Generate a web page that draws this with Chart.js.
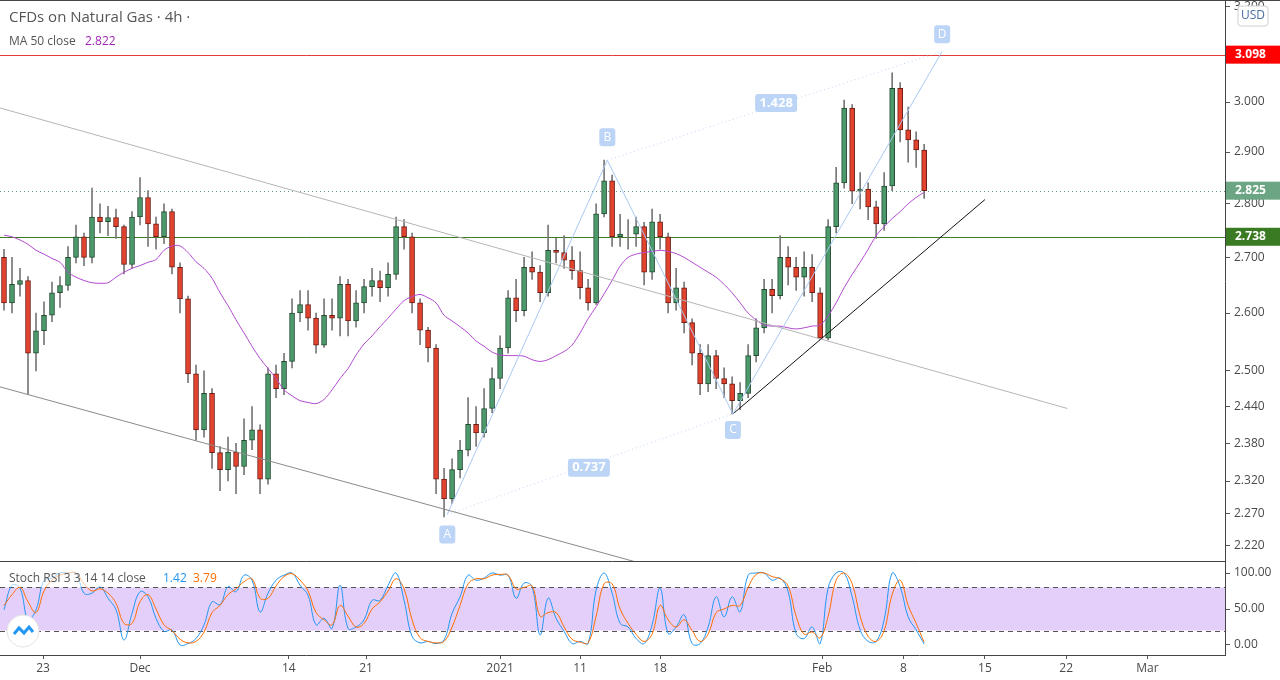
<!DOCTYPE html>
<html>
<head>
<meta charset="utf-8">
<script src="https://cdn.jsdelivr.net/npm/chart.js@4.4.1/dist/chart.umd.min.js"></script>
<style>
  html, body { margin: 0; padding: 0; background: #fff; overflow: hidden; }
  #main { display: block; }
  #stoch { display: block; }
</style>
</head>
<body>
<div style="position:relative;width:1280px;height:562px"><canvas id="main"></canvas></div>
<div style="position:relative;width:1280px;height:118px"><canvas id="stoch"></canvas></div>
<script>
// --- datos (velas agrupadas, ~3 velas de 4h por cada una) ---
const opens = [2.700,2.618,2.651,2.658,2.530,2.569,2.596,2.636,2.649,2.700,
  2.738,2.700,2.775,2.766,2.774,2.757,2.687,2.775,2.812,2.762,
  2.738,2.785,2.682,2.625,2.495,2.402,2.462,2.365,2.338,2.366,
  2.343,2.385,2.402,2.323,2.495,2.470,2.516,2.600,2.615,2.591,
  2.544,2.596,2.591,2.651,2.586,2.618,2.647,2.658,2.645,2.669,
  2.757,2.738,2.618,2.570,2.539,2.323,2.292,2.338,2.369,2.411,
  2.397,2.437,2.487,2.539,2.627,2.604,2.682,2.673,2.636,2.713,
  2.709,2.695,2.676,2.645,2.618,2.781,2.844,2.738,2.743,2.743,
  2.757,2.673,2.766,2.738,2.618,2.645,2.583,2.530,2.478,2.526,
  2.487,2.478,2.450,2.462,2.526,2.574,2.642,2.631,2.700,2.682,
  2.664,2.682,2.636,2.556,2.757,2.840,2.988,2.824,2.828,2.794,
  2.762,2.834,3.028,2.944,2.924,2.904];
const closes = [2.618,2.651,2.658,2.530,2.569,2.596,2.636,2.649,2.700,2.738,
  2.700,2.775,2.766,2.774,2.757,2.687,2.775,2.812,2.762,2.738,
  2.785,2.682,2.625,2.495,2.402,2.462,2.365,2.338,2.366,2.343,
  2.385,2.402,2.323,2.495,2.470,2.516,2.600,2.615,2.591,2.544,
  2.596,2.591,2.651,2.586,2.618,2.647,2.658,2.645,2.669,2.757,
  2.738,2.618,2.570,2.539,2.323,2.292,2.338,2.369,2.411,2.397,
  2.437,2.487,2.539,2.627,2.604,2.682,2.673,2.636,2.713,2.709,
  2.695,2.676,2.645,2.618,2.781,2.844,2.738,2.743,2.743,2.757,
  2.673,2.766,2.738,2.618,2.645,2.583,2.530,2.478,2.526,2.487,
  2.478,2.450,2.462,2.526,2.574,2.642,2.631,2.700,2.682,2.664,
  2.682,2.636,2.556,2.757,2.840,2.988,2.824,2.828,2.794,2.762,
  2.834,3.028,2.944,2.924,2.904,2.825];
const highs = [2.715,2.700,2.680,2.665,2.600,2.620,2.655,2.665,2.720,2.760,
  2.745,2.830,2.800,2.795,2.790,2.760,2.785,2.850,2.825,2.775,
  2.800,2.790,2.690,2.630,2.510,2.500,2.470,2.375,2.390,2.380,
  2.420,2.440,2.410,2.505,2.510,2.530,2.625,2.640,2.640,2.600,
  2.625,2.625,2.665,2.660,2.640,2.660,2.680,2.675,2.690,2.775,
  2.770,2.745,2.625,2.575,2.545,2.340,2.355,2.385,2.455,2.440,
  2.470,2.505,2.560,2.640,2.660,2.700,2.710,2.685,2.760,2.735,
  2.740,2.720,2.710,2.660,2.800,2.884,2.855,2.780,2.770,2.775,
  2.765,2.790,2.780,2.745,2.680,2.655,2.590,2.545,2.545,2.535,
  2.505,2.490,2.480,2.545,2.590,2.660,2.660,2.740,2.720,2.700,
  2.710,2.705,2.645,2.770,2.870,3.004,2.995,2.860,2.840,2.805,
  2.860,3.060,3.040,2.990,2.940,2.915];
const lows = [2.605,2.600,2.630,2.460,2.500,2.545,2.585,2.610,2.640,2.690,
  2.685,2.690,2.745,2.740,2.735,2.670,2.680,2.760,2.720,2.715,
  2.725,2.670,2.600,2.480,2.385,2.390,2.340,2.305,2.320,2.300,
  2.330,2.370,2.300,2.315,2.455,2.460,2.505,2.585,2.570,2.530,
  2.540,2.570,2.560,2.560,2.575,2.600,2.630,2.620,2.630,2.660,
  2.715,2.600,2.545,2.515,2.300,2.264,2.285,2.325,2.360,2.375,
  2.390,2.430,2.470,2.530,2.585,2.595,2.660,2.620,2.630,2.690,
  2.680,2.660,2.625,2.605,2.615,2.775,2.720,2.720,2.715,2.720,
  2.650,2.660,2.715,2.600,2.605,2.565,2.510,2.460,2.465,2.470,
  2.455,2.428,2.435,2.455,2.515,2.565,2.600,2.625,2.650,2.640,
  2.630,2.620,2.553,2.553,2.745,2.830,2.800,2.790,2.770,2.735,
  2.750,2.825,2.920,2.880,2.870,2.810];
const ma50 = [2.741,2.738,2.732,2.724,2.713,2.706,2.698,2.691,2.673,2.664,
  2.658,2.654,2.653,2.654,2.664,2.673,2.680,2.685,2.691,2.696,
  2.713,2.721,2.721,2.709,2.692,2.680,2.662,2.636,2.613,2.588,
  2.565,2.542,2.521,2.504,2.487,2.468,2.458,2.450,2.447,2.445,
  2.452,2.468,2.487,2.504,2.527,2.546,2.560,2.576,2.591,2.607,
  2.622,2.629,2.633,2.627,2.618,2.596,2.586,2.576,2.565,2.551,
  2.542,2.532,2.527,2.526,2.526,2.525,2.519,2.516,2.519,2.526,
  2.533,2.544,2.565,2.590,2.611,2.634,2.658,2.684,2.700,2.706,
  2.709,2.711,2.713,2.711,2.707,2.700,2.691,2.682,2.673,2.664,
  2.651,2.636,2.618,2.600,2.588,2.579,2.577,2.577,2.574,2.572,
  2.574,2.577,2.579,2.595,2.618,2.645,2.669,2.691,2.715,2.740,
  2.757,2.772,2.785,2.800,2.812,2.822];
const stochK = [49,83,79,35,49,90,93,100,100,100,72,72,81,65,49,7,44,74,67,37,
  19,21,0,2,9,28,60,56,81,74,97,90,46,72,90,97,100,83,69,28,
  37,23,83,23,25,35,62,62,83,100,62,12,3,5,2,7,44,67,97,90,
  93,100,97,97,65,86,81,14,65,37,19,2,5,2,76,100,72,30,25,9,
  2,28,79,16,25,42,2,2,25,67,39,67,46,97,100,100,90,93,74,16,
  9,25,2,79,100,100,67,21,5,5,35,100,81,39,21,1.42];
const stochD = [55,70,80,60,45,75,90,97,100,100,85,75,78,72,58,30,30,60,70,50,
  28,20,8,3,5,18,45,55,70,78,88,92,65,65,82,95,99,90,75,45,
  35,28,55,40,25,30,50,60,75,92,78,35,10,5,3,5,25,55,85,92,
  92,97,98,97,78,80,82,40,45,45,25,8,4,3,40,85,85,50,30,15,
  5,15,55,35,25,35,20,5,15,45,50,55,55,80,98,100,95,92,82,40,
  15,18,10,40,90,100,85,40,12,5,20,70,90,55,30,3.79];

// eje de tiempo (índice de vela) y etiquetas
const timeTicks = [4.875, 17, 35.6, 45.25, 62, 72, 82, 102.25, 112.4, 122.6, 132.75, 142.9];
const timeLabels = ['23', 'Dec', '14', '21', '2021', '11', '18', 'Feb', '8', '15', '22', 'Mar'];
const priceTicks = [2.22, 2.27, 2.32, 2.38, 2.44, 2.5, 2.6, 2.7, 2.8, 2.9, 3.0, 3.2];
const stochTicks = [0, 50, 100];

// dibujos (canal, patrón ABCD, línea de tendencia)
const channelTop = [[-0.5, 2.988], [132.9, 2.437]];
const channelBottom = [[-0.5, 2.473], [79, 2.196]];
const pointsABCD = [[55.4, 2.268], [75.4, 2.884], [91.1, 2.428], [117.25, 3.105]];
const namesABCD = ['A', 'B', 'C', 'D'];
const trendLine = [[91.1, 2.428], [122.6, 2.808]];
const ratioLabels = [[73.1, 2.341, '0.737'], [96.5, 2.998, '1.428']];
const levelHigh = 3.098, levelSupport = 2.738, lastPrice = 2.825, lastMA = 2.822;

const X_MIN = -0.5, X_MAX = 152.6;
const UP = '#4c9a6c', UP_BORDER = '#1f4a2e', DOWN = '#e2432e', DOWN_BORDER = '#6e1a10';

const toXY = arr => arr.map(p => ({ x: p[0], y: p[1] }));
const idx = closes.map((c, i) => i);

function lineSet(points, color, dash, width) {
  return {
    type: 'line', data: toXY(points), borderColor: color, borderWidth: width || 1,
    borderDash: dash || [], pointRadius: 0, fill: false, tension: 0, order: 0
  };
}

// eje derecho de 55px, sin margen extra arriba/abajo
const fixRight = scale => { scale.width = 55; scale.paddingTop = 0; scale.paddingBottom = 0; };

// --- plugin de la ventana principal ---
const overlay = {
  id: 'overlay',
  beforeDatasetsDraw(chart) {
    const { ctx, chartArea: a, scales: { y } } = chart;
    ctx.save();
    ctx.lineWidth = 1;
    ctx.strokeStyle = '#e53935';
    let py = Math.round(y.getPixelForValue(levelHigh)) + 0.5;
    ctx.beginPath(); ctx.moveTo(a.left, py); ctx.lineTo(a.right, py); ctx.stroke();
    ctx.strokeStyle = '#3e7b27';
    py = Math.round(y.getPixelForValue(levelSupport)) + 0.5;
    ctx.beginPath(); ctx.moveTo(a.left, py); ctx.lineTo(a.right, py); ctx.stroke();
    ctx.strokeStyle = '#5e9c80';
    ctx.setLineDash([1, 3]);
    py = Math.round(y.getPixelForValue(lastPrice)) + 0.5;
    ctx.beginPath(); ctx.moveTo(a.left, py); ctx.lineTo(a.right, py); ctx.stroke();
    ctx.restore();
  },
  afterDraw(chart) {
    const { ctx, chartArea: a, scales: { x, y } } = chart;
    ctx.save();
    ctx.font = '12px "Open Sans", sans-serif';
    ctx.textAlign = 'center'; ctx.textBaseline = 'middle';
    const offs = [20, -23, 16, -17];
    pointsABCD.forEach((p, i) => {
      const px = x.getPixelForValue(p[0]), py = y.getPixelForValue(p[1]) + offs[i];
      ctx.fillStyle = '#bcd4f6';
      roundRect(ctx, px - 8, py - 9, 16, 18, 3); ctx.fill();
      ctx.fillStyle = '#fff'; ctx.fillText(namesABCD[i], px, py);
    });
    ctx.font = 'bold 13px "Open Sans", sans-serif';
    ratioLabels.forEach(r => {
      const px = x.getPixelForValue(r[0]), py = y.getPixelForValue(r[1]);
      ctx.fillStyle = '#bcd4f6';
      roundRect(ctx, px - 21, py - 9, 42, 18, 3); ctx.fill();
      ctx.fillStyle = '#fff'; ctx.fillText(r[2], px, py);
    });
    ctx.strokeStyle = '#444'; ctx.lineWidth = 1;
    ctx.beginPath(); ctx.moveTo(0, 0.5); ctx.lineTo(1280, 0.5); ctx.stroke();
    ctx.beginPath(); ctx.moveTo(0, 561.5); ctx.lineTo(a.right, 561.5); ctx.stroke();
    badge(ctx, a.right, y.getPixelForValue(levelHigh), levelHigh.toFixed(3), '#ff0000');
    badge(ctx, a.right, y.getPixelForValue(lastPrice), lastPrice.toFixed(3), '#6ca583');
    badge(ctx, a.right, y.getPixelForValue(levelSupport), levelSupport.toFixed(3), '#3a7a22');
    ctx.fillStyle = '#fff'; ctx.strokeStyle = '#d0d0d0';
    roundRect(ctx, 1238, 6, 30, 20, 3); ctx.fill(); ctx.stroke();
    ctx.fillStyle = '#4a6fa5'; ctx.font = '12px "Open Sans", sans-serif';
    ctx.textAlign = 'center'; ctx.fillText('USD', 1253, 16);
    ctx.textAlign = 'left';
    ctx.fillStyle = '#555'; ctx.font = '15px "Open Sans", sans-serif';
    ctx.fillText('CFDs on Natural Gas · 4h ·', 9, 18);
    ctx.font = '12px "Open Sans", sans-serif';
    ctx.fillText('MA 50 close', 9, 42);
    ctx.fillStyle = '#9c27b0';
    ctx.fillText(lastMA.toFixed(3), 85, 42);
    ctx.restore();
  }
};

function roundRect(ctx, x, y, w, h, r) {
  ctx.beginPath();
  ctx.moveTo(x + r, y); ctx.lineTo(x + w - r, y); ctx.quadraticCurveTo(x + w, y, x + w, y + r);
  ctx.lineTo(x + w, y + h - r); ctx.quadraticCurveTo(x + w, y + h, x + w - r, y + h);
  ctx.lineTo(x + r, y + h); ctx.quadraticCurveTo(x, y + h, x, y + h - r);
  ctx.lineTo(x, y + r); ctx.quadraticCurveTo(x, y, x + r, y); ctx.closePath();
}

function badge(ctx, left, py, text, color) {
  ctx.fillStyle = color;
  ctx.fillRect(left + 1, py - 9, 54, 18);
  ctx.fillStyle = '#fff'; ctx.font = 'bold 12px "Open Sans", sans-serif';
  ctx.textAlign = 'left'; ctx.textBaseline = 'middle';
  ctx.fillText(text, left + 10, py);
}

new Chart(document.getElementById('main'), {
  type: 'bar',
  data: {
    datasets: [
      {
        label: 'wicks', data: idx.map(i => ({ x: i, y: [lows[i], highs[i]] })),
        backgroundColor: '#777', barThickness: 1, grouped: false, order: 3
      },
      {
        label: 'bodies', data: idx.map(i => ({ x: i, y: [opens[i], closes[i]] })),
        backgroundColor: idx.map(i => closes[i] >= opens[i] ? UP : DOWN),
        borderColor: idx.map(i => closes[i] >= opens[i] ? UP_BORDER : DOWN_BORDER),
        borderWidth: 1, borderSkipped: false, barThickness: 5, grouped: false, order: 2
      },
      {
        type: 'line', label: 'MA 50', data: idx.map(i => ({ x: i, y: ma50[i] })),
        borderColor: '#b24ad0', borderWidth: 1, pointRadius: 0, tension: 0.3, order: 1
      },
      lineSet(channelTop, '#b5b5b5'),
      lineSet(channelBottom, '#8a8a8a'),
      lineSet(pointsABCD.slice(0, 2), '#a9c8f3'),
      lineSet(pointsABCD.slice(1, 3), '#a9c8f3'),
      lineSet(pointsABCD.slice(2, 4), '#a9c8f3'),
      lineSet([pointsABCD[0], pointsABCD[2]], '#bcd4f6', [1, 3]),
      lineSet([pointsABCD[1], pointsABCD[3]], '#bcd4f6', [1, 3]),
      lineSet(trendLine, '#111')
    ]
  },
  options: {
    responsive: true, maintainAspectRatio: false, animation: false,
    layout: { padding: 0 },
    plugins: { legend: { display: false }, tooltip: { enabled: false } },
    scales: {
      x: { type: 'linear', min: X_MIN, max: X_MAX, offset: false, display: false },
      y: {
        type: 'logarithmic', position: 'right', min: 2.196, max: 3.215,
        afterBuildTicks: s => { s.ticks = priceTicks.map(v => ({ value: v })); },
        afterFit: fixRight,
        grid: { drawOnChartArea: false, tickLength: 5, color: '#555' },
        border: { display: true, color: '#444' },
        ticks: {
          padding: 4, color: '#4a4a4a', font: { size: 12, family: '"Open Sans", sans-serif' },
          callback: v => Number(v).toFixed(3)
        }
      }
    }
  },
  plugins: [overlay]
});

// --- ventana Stoch RSI ---
const stochOverlay = {
  id: 'stochOverlay',
  beforeDatasetsDraw(chart) {
    const { ctx, chartArea: a, scales: { y } } = chart;
    const y80 = y.getPixelForValue(80), y20 = y.getPixelForValue(20);
    ctx.save();
    ctx.fillStyle = 'rgba(200, 160, 245, 0.5)';
    ctx.fillRect(a.left, y80, a.right - a.left, y20 - y80);
    ctx.strokeStyle = '#555'; ctx.setLineDash([5, 4]); ctx.lineWidth = 1;
    [y80, y20].forEach(p => {
      ctx.beginPath(); ctx.moveTo(a.left, Math.round(p) + 0.5); ctx.lineTo(a.right, Math.round(p) + 0.5); ctx.stroke();
    });
    ctx.restore();
  },
  afterDraw(chart) {
    const { ctx } = chart;
    ctx.save();
    ctx.font = '12px "Open Sans", sans-serif'; ctx.textBaseline = 'middle';
    ctx.fillStyle = 'rgba(255,255,255,0.6)'; ctx.fillRect(6, 9, 212, 16);
    ctx.fillStyle = '#555'; ctx.fillText('Stoch RSI 3 3 14 14 close', 9, 17);
    ctx.fillStyle = '#2196f3'; ctx.fillText(stochK[stochK.length - 1].toFixed(2), 163, 17);
    ctx.fillStyle = '#ff6d00'; ctx.fillText(stochD[stochD.length - 1].toFixed(2), 193, 17);
    ctx.fillStyle = '#fff'; ctx.strokeStyle = '#e3e3e3';
    ctx.beginPath(); ctx.arc(23, 69, 16, 0, Math.PI * 2); ctx.fill(); ctx.stroke();
    ctx.strokeStyle = '#2196f3'; ctx.lineWidth = 3;
    ctx.beginPath(); ctx.moveTo(14, 72); ctx.lineTo(19, 66); ctx.lineTo(24, 71); ctx.lineTo(29, 65); ctx.lineTo(33, 70); ctx.stroke();
    ctx.restore();
  }
};

new Chart(document.getElementById('stoch'), {
  type: 'line',
  data: {
    datasets: [
      { label: 'D', data: idx.map(i => ({ x: i, y: stochD[i] })), borderColor: '#ff6d00', borderWidth: 1, pointRadius: 0, tension: 0.4 },
      { label: 'K', data: idx.map(i => ({ x: i, y: stochK[i] })), borderColor: '#2196f3', borderWidth: 1, pointRadius: 0, tension: 0.4 }
    ]
  },
  options: {
    responsive: true, maintainAspectRatio: false, animation: false,
    layout: { padding: 0 },
    plugins: { legend: { display: false }, tooltip: { enabled: false } },
    scales: {
      x: {
        type: 'linear', min: X_MIN, max: X_MAX,
        afterBuildTicks: s => { s.ticks = timeTicks.map(v => ({ value: v })); },
        afterFit: s => { s.height = 25; s.paddingLeft = 0; s.paddingRight = 0; },
        grid: { drawOnChartArea: false, tickLength: 4, color: '#555' },
        border: { display: true, color: '#444' },
        ticks: {
          maxRotation: 0, autoSkip: false, padding: 2, color: '#4a4a4a',
          font: { size: 12, family: '"Open Sans", sans-serif' },
          callback: v => timeLabels[timeTicks.indexOf(v)]
        }
      },
      y: {
        position: 'right', min: -13.9, max: 115.3,
        afterBuildTicks: s => { s.ticks = stochTicks.map(v => ({ value: v })); },
        afterFit: fixRight,
        grid: { drawOnChartArea: false, tickLength: 5, color: '#555' },
        border: { display: true, color: '#444' },
        ticks: {
          padding: 4, color: '#4a4a4a', font: { size: 12, family: '"Open Sans", sans-serif' },
          callback: v => Number(v).toFixed(2)
        }
      }
    }
  },
  plugins: [stochOverlay]
});
</script>
</body>
</html>
